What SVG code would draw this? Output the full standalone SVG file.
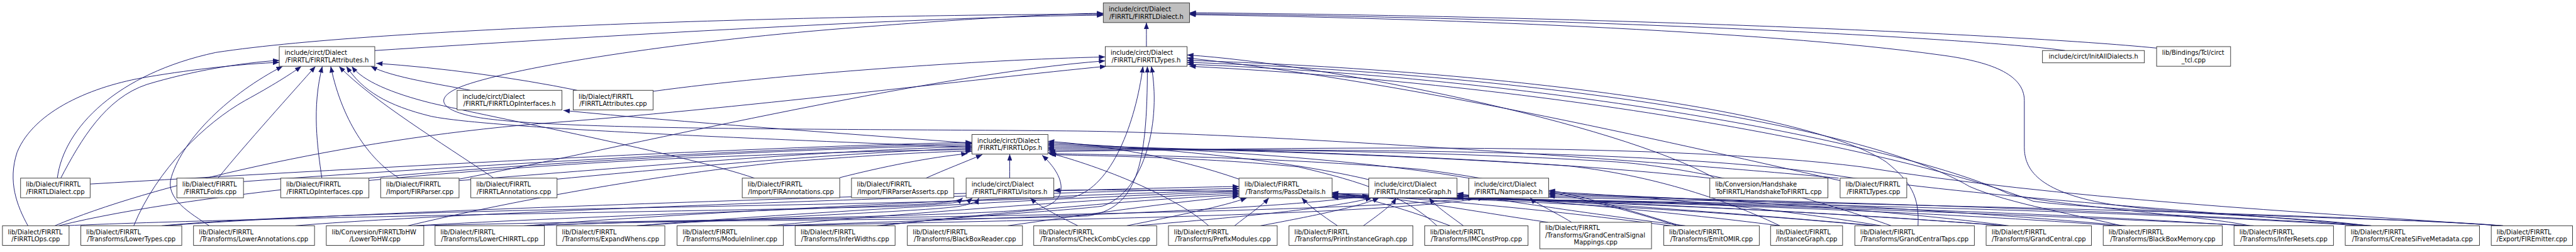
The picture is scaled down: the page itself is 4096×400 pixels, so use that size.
<svg xmlns="http://www.w3.org/2000/svg" width="4096" height="400" viewBox="0 0 4096 400">
<defs>
<marker id="ah" markerWidth="13" markerHeight="10" refX="13" refY="5" orient="auto" markerUnits="userSpaceOnUse" viewBox="0 0 13 10"><path d="M0,0 L13,5 L0,10 z" fill="#191970"/></marker>
</defs>
<style>
.e{fill:none;stroke:#191970;stroke-width:1.25;marker-end:url(#ah)}
.n rect{fill:#ffffff;stroke:#333333;stroke-width:1.2}
.n text{font-family:"DejaVu Sans",Verdana,sans-serif;font-size:12.8px;fill:#000000}
.n .m{text-anchor:middle}
#n_FIRRTLDialect_h rect{fill:#bfbfbf}
</style>
<rect width="4096" height="400" fill="#ffffff"/>
<g transform="scale(0.779)">
<g id="edges">
<path class="e" d="M2340,95 C2340,80 2340,60 2340,46"/>
<path class="e" d="M765,103 C1200,75 1900,33 2252,31"/>
<path class="e" d="M117,363 C130,260 240,150 440,107 C800,52 1800,29 2252,29"/>
<path class="e" d="M3753,363 C3400,330 2600,272 2200,267 C1700,262 1150,266 980,240 C890,225 880,195 960,170 C1080,132 1400,82 1760,55 C1980,38 2150,28 2252,27"/>
<path class="e" d="M4215,103 C4050,80 3300,38 2428,28"/>
<path class="e" d="M4402,98 C4100,68 3200,32 2428,26"/>
<path class="e" d="M5109,460 C4900,442 4480,445 4300,415 C4160,390 4132,345 4132,300 L4132,205 C4132,150 4060,125 3960,112 C3600,62 2900,36 2428,30"/>
<path class="e" d="M124,363 C165,285 215,200 300,172 C390,145 490,128 570,123"/>
<path class="e" d="M57,460 C35,420 15,370 35,310 C70,225 190,175 300,157 C400,140 500,130 570,127"/>
<path class="e" d="M427,460 C390,435 335,405 350,360 C375,280 470,190 577,135"/>
<path class="e" d="M273,460 C320,345 420,250 500,205 C555,175 595,150 615,135"/>
<path class="e" d="M445,363 C500,295 600,185 644,135"/>
<path class="e" d="M657,363 C648,300 636,220 658,135"/>
<path class="e" d="M815,363 C760,330 700,255 675,135"/>
<path class="e" d="M1008,363 C900,290 760,205 692,135"/>
<path class="e" d="M1984,300 C1600,285 1000,262 880,237 C790,215 740,185 707,135"/>
<path class="e" d="M1540,363 C1400,315 1000,238 880,210 C800,190 740,165 718,135"/>
<path class="e" d="M960,184 C900,172 800,158 757,135"/>
<path class="e" d="M1178,184 C1050,158 900,138 768,129"/>
<path class="e" d="M1333,186 C1600,150 2000,122 2256,116"/>
<path class="e" d="M937,365 C1250,305 1900,150 2256,124"/>
<path class="e" d="M112,460 C300,380 700,285 1100,252 C1500,222 2000,160 2258,135"/>
<path class="e" d="M330,460 C700,425 1800,420 2190,402 C2270,380 2318,250 2333,135"/>
<path class="e" d="M1090,460 C1400,445 2000,450 2220,440 C2320,425 2342,340 2342,135"/>
<path class="e" d="M1800,460 C1950,440 2150,432 2250,420 C2340,390 2370,240 2350,135"/>
<path class="e" d="M3500,363 C3300,250 2700,130 2423,112"/>
<path class="e" d="M3756,368 C3450,300 2900,170 2423,118"/>
<path class="e" d="M3915,460 C3918,400 3900,370 3850,330 C3700,230 3100,145 2423,123"/>
<path class="e" d="M4330,460 C4250,440 4100,415 4020,380 C3800,250 3100,150 2423,127"/>
<path class="e" d="M4592,460 C4500,440 4200,420 4100,395 C3900,300 3200,160 2424,131"/>
<path class="e" d="M4832,460 C4700,440 4300,430 4150,410 C3950,330 3300,180 2428,135"/>
<path class="e" d="M1984,292 C1700,270 1400,250 1150,225"/>
<path class="e" d="M184,375 C700,345 1500,300 1984,290"/>
<path class="e" d="M497,370 C900,340 1600,300 1984,293"/>
<path class="e" d="M753,363 C1100,330 1650,302 1984,296"/>
<path class="e" d="M937,368 C1300,340 1700,305 1984,299"/>
<path class="e" d="M1137,365 C1450,335 1750,310 1984,302"/>
<path class="e" d="M120,460 C400,390 1000,340 1400,322 C1700,310 1850,306 1984,305"/>
<path class="e" d="M833,460 C1000,420 1300,360 1600,330 C1800,315 1900,309 1984,308"/>
<path class="e" d="M1714,362 C1800,340 1900,320 1975,313"/>
<path class="e" d="M1890,363 C1930,345 1970,330 2005,315"/>
<path class="e" d="M2061,363 C2061,345 2061,330 2061,314"/>
<path class="e" d="M1070,460 C1500,445 2000,440 2120,425 C2185,410 2175,360 2127,316"/>
<path class="e" d="M2529,365 C2400,320 2250,295 2139,288"/>
<path class="e" d="M2794,366 C2600,320 2300,297 2139,291"/>
<path class="e" d="M2998,363 C2750,320 2350,299 2139,294"/>
<path class="e" d="M3490,363 C3100,320 2500,303 2139,297"/>
<path class="e" d="M3633,460 C3550,420 3400,360 3200,338 C2800,312 2400,302 2139,300"/>
<path class="e" d="M3860,460 C3750,420 3500,345 3300,330 C2900,305 2450,304 2139,303"/>
<path class="e" d="M4840,460 C4500,430 4000,400 3700,350 C3300,300 2600,305 2139,306"/>
<path class="e" d="M5105,460 C4700,432 4200,405 3800,340 C3400,290 2700,300 2141,309"/>
<path class="e" d="M2467,460 C2400,400 2250,340 2139,311"/>
<path class="e" d="M2933,460 C2870,400 2780,370 2650,340 C2450,320 2250,318 2143,315"/>
<path class="e" d="M3423,460 C3300,420 3100,370 2900,345 C2600,320 2300,316 2141,313"/>
<path class="e" d="M130,460 C600,440 1500,430 1850,420 C1930,416 1975,412 1985,403"/>
<path class="e" d="M845,460 C1200,440 1700,425 1900,415 C1940,412 1960,408 1965,403"/>
<path class="e" d="M1300,460 C1600,440 1900,430 1960,420 C1985,415 1995,410 1998,403"/>
<path class="e" d="M2200,460 C2160,440 2120,420 2103,403"/>
<path class="e" d="M5109,460 C4600,425 3000,400 2500,390 C2300,386 2200,387 2151,388"/>
<path class="e" d="M337,460 C700,430 2200,385 2529,380"/>
<path class="e" d="M603,460 C950,430 2200,390 2529,384"/>
<path class="e" d="M1075,460 C1400,432 2250,393 2529,388"/>
<path class="e" d="M1300,460 C1600,435 2280,396 2529,391"/>
<path class="e" d="M1567,460 C1850,435 2300,400 2529,394"/>
<path class="e" d="M1790,460 C2000,438 2330,405 2529,397"/>
<path class="e" d="M2057,460 C2200,440 2400,410 2529,400"/>
<path class="e" d="M2300,460 C2400,440 2500,420 2545,403"/>
<path class="e" d="M2520,460 C2545,440 2575,420 2590,403"/>
<path class="e" d="M2730,460 C2700,440 2672,420 2657,403"/>
<path class="e" d="M2960,460 C2880,430 2790,402 2719,392"/>
<path class="e" d="M3160,453 C3000,430 2850,400 2719,394"/>
<path class="e" d="M3410,460 C3100,420 2850,400 2719,396"/>
<path class="e" d="M3823,460 C3400,420 2900,400 2719,398"/>
<path class="e" d="M4087,460 C3600,420 2950,401 2719,400"/>
<path class="e" d="M4320,460 C3800,420 3000,402 2719,401"/>
<path class="e" d="M4580,460 C4000,420 3050,403 2719,402"/>
<path class="e" d="M4820,460 C4200,420 3100,404 2719,403"/>
<path class="e" d="M1585,460 C2000,445 2600,430 2794,398"/>
<path class="e" d="M2320,460 C2500,445 2720,425 2800,403"/>
<path class="e" d="M2573,460 C2680,440 2780,420 2815,403"/>
<path class="e" d="M2783,460 C2810,440 2840,420 2850,403"/>
<path class="e" d="M2987,460 C2960,440 2930,420 2917,403"/>
<path class="e" d="M3440,460 C3200,430 3050,405 2974,394"/>
<path class="e" d="M3633,460 C3400,430 3100,405 2974,397"/>
<path class="e" d="M3830,460 C3500,430 3150,407 2974,399"/>
<path class="e" d="M4095,460 C3700,430 3200,408 2974,401"/>
<path class="e" d="M4600,460 C4000,430 3300,409 2974,403"/>
<path class="e" d="M850,460 C1400,445 2700,440 3010,403"/>
<path class="e" d="M1600,460 C2100,448 2800,440 3030,403"/>
<path class="e" d="M3208,453 C3170,430 3135,415 3123,403"/>
<path class="e" d="M3430,460 C3300,420 3200,392 3161,388"/>
<path class="e" d="M3840,460 C3600,420 3300,396 3161,391"/>
<path class="e" d="M4100,460 C3800,420 3350,398 3161,394"/>
<path class="e" d="M4340,460 C3900,420 3400,400 3161,397"/>
<path class="e" d="M4840,460 C4300,425 3500,404 3161,400"/>
</g>
<g id="n_FIRRTLDialect_h" class="n"><rect x="2252" y="6" width="176" height="40"/><text x="2263" y="23">include/circt/Dialect</text><text class="m" x="2340" y="38">/FIRRTL/FIRRTLDialect.h</text></g>
<g id="n_FIRRTLAttributes_h" class="n"><rect x="570" y="95" width="195" height="40"/><text x="581" y="112">include/circt/Dialect</text><text class="m" x="667.5" y="127">/FIRRTL/FIRRTLAttributes.h</text></g>
<g id="n_FIRRTLTypes_h" class="n"><rect x="2256" y="95" width="167" height="40"/><text x="2267" y="112">include/circt/Dialect</text><text class="m" x="2339.5" y="127">/FIRRTL/FIRRTLTypes.h</text></g>
<g id="n_InitAllDialects_h" class="n"><rect x="4169" y="103" width="208" height="25"/><text class="m" x="4273" y="120">include/circt/InitAllDialects.h</text></g>
<g id="n_circt_tcl_cpp" class="n"><rect x="4402" y="95" width="151" height="40"/><text x="4413" y="112">lib/Bindings/Tcl/circt</text><text class="m" x="4477.5" y="127">_tcl.cpp</text></g>
<g id="n_FIRRTLOpInterfaces_h" class="n"><rect x="933" y="184" width="214" height="40"/><text x="944" y="201">include/circt/Dialect</text><text class="m" x="1040" y="216">/FIRRTL/FIRRTLOpInterfaces.h</text></g>
<g id="n_FIRRTLAttributes_cpp" class="n"><rect x="1170" y="184" width="163" height="40"/><text x="1181" y="201">lib/Dialect/FIRRTL</text><text class="m" x="1251.5" y="216">/FIRRTLAttributes.cpp</text></g>
<g id="n_FIRRTLOps_h" class="n"><rect x="1984" y="274" width="155" height="40"/><text x="1995" y="291">include/circt/Dialect</text><text class="m" x="2061.5" y="306">/FIRRTL/FIRRTLOps.h</text></g>
<g id="n_FIRRTLDialect_cpp" class="n"><rect x="42" y="363" width="142" height="40"/><text x="53" y="380">lib/Dialect/FIRRTL</text><text class="m" x="113" y="395">/FIRRTLDialect.cpp</text></g>
<g id="n_FIRRTLFolds_cpp" class="n"><rect x="361" y="363" width="136" height="40"/><text x="372" y="380">lib/Dialect/FIRRTL</text><text class="m" x="429" y="395">/FIRRTLFolds.cpp</text></g>
<g id="n_FIRRTLOpInterfaces_cpp" class="n"><rect x="573" y="363" width="180" height="40"/><text x="584" y="380">lib/Dialect/FIRRTL</text><text class="m" x="663" y="395">/FIRRTLOpInterfaces.cpp</text></g>
<g id="n_FIRParser_cpp" class="n"><rect x="777" y="363" width="160" height="40"/><text x="788" y="380">lib/Dialect/FIRRTL</text><text class="m" x="857" y="395">/Import/FIRParser.cpp</text></g>
<g id="n_FIRRTLAnnotations_cpp" class="n"><rect x="961" y="363" width="176" height="40"/><text x="972" y="380">lib/Dialect/FIRRTL</text><text class="m" x="1049" y="395">/FIRRTLAnnotations.cpp</text></g>
<g id="n_FIRAnnotations_cpp" class="n"><rect x="1515" y="363" width="199" height="40"/><text x="1526" y="380">lib/Dialect/FIRRTL</text><text class="m" x="1614.5" y="395">/Import/FIRAnnotations.cpp</text></g>
<g id="n_FIRParserAsserts_cpp" class="n"><rect x="1738" y="363" width="209" height="40"/><text x="1749" y="380">lib/Dialect/FIRRTL</text><text class="m" x="1842.5" y="395">/Import/FIRParserAsserts.cpp</text></g>
<g id="n_FIRRTLVisitors_h" class="n"><rect x="1972" y="363" width="179" height="40"/><text x="1983" y="380">include/circt/Dialect</text><text class="m" x="2061.5" y="395">/FIRRTL/FIRRTLVisitors.h</text></g>
<g id="n_PassDetails_h" class="n"><rect x="2529" y="363" width="190" height="40"/><text x="2540" y="380">lib/Dialect/FIRRTL</text><text class="m" x="2624" y="395">/Transforms/PassDetails.h</text></g>
<g id="n_InstanceGraph_h" class="n"><rect x="2794" y="363" width="180" height="40"/><text x="2805" y="380">include/circt/Dialect</text><text class="m" x="2884" y="395">/FIRRTL/InstanceGraph.h</text></g>
<g id="n_Namespace_h" class="n"><rect x="2998" y="363" width="163" height="40"/><text x="3009" y="380">include/circt/Dialect</text><text class="m" x="3079.5" y="395">/FIRRTL/Namespace.h</text></g>
<g id="n_HandshakeToFIRRTL_cpp" class="n"><rect x="3490" y="363" width="241" height="40"/><text x="3501" y="380">lib/Conversion/Handshake</text><text class="m" x="3610.5" y="395">ToFIRRTL/HandshakeToFIRRTL.cpp</text></g>
<g id="n_FIRRTLTypes_cpp" class="n"><rect x="3756" y="363" width="136" height="40"/><text x="3767" y="380">lib/Dialect/FIRRTL</text><text class="m" x="3824" y="395">/FIRRTLTypes.cpp</text></g>
<g id="n_FIRRTLOps_cpp" class="n"><rect x="5" y="460" width="136" height="40"/><text x="16" y="477">lib/Dialect/FIRRTL</text><text class="m" x="73" y="492">/FIRRTLOps.cpp</text></g>
<g id="n_LowerTypes_cpp" class="n"><rect x="165" y="460" width="206" height="40"/><text x="176" y="477">lib/Dialect/FIRRTL</text><text class="m" x="268" y="492">/Transforms/LowerTypes.cpp</text></g>
<g id="n_LowerAnnotations_cpp" class="n"><rect x="395" y="460" width="247" height="40"/><text x="406" y="477">lib/Dialect/FIRRTL</text><text class="m" x="518.5" y="492">/Transforms/LowerAnnotations.cpp</text></g>
<g id="n_LowerToHW_cpp" class="n"><rect x="666" y="460" width="199" height="40"/><text x="677" y="477">lib/Conversion/FIRRTLToHW</text><text class="m" x="765.5" y="492">/LowerToHW.cpp</text></g>
<g id="n_LowerCHIRRTL_cpp" class="n"><rect x="888" y="460" width="223" height="40"/><text x="899" y="477">lib/Dialect/FIRRTL</text><text class="m" x="999.5" y="492">/Transforms/LowerCHIRRTL.cpp</text></g>
<g id="n_ExpandWhens_cpp" class="n"><rect x="1136" y="460" width="221" height="40"/><text x="1147" y="477">lib/Dialect/FIRRTL</text><text class="m" x="1246.5" y="492">/Transforms/ExpandWhens.cpp</text></g>
<g id="n_ModuleInliner_cpp" class="n"><rect x="1382" y="460" width="217" height="40"/><text x="1393" y="477">lib/Dialect/FIRRTL</text><text class="m" x="1490.5" y="492">/Transforms/ModuleInliner.cpp</text></g>
<g id="n_InferWidths_cpp" class="n"><rect x="1623" y="460" width="204" height="40"/><text x="1634" y="477">lib/Dialect/FIRRTL</text><text class="m" x="1725" y="492">/Transforms/InferWidths.cpp</text></g>
<g id="n_BlackBoxReader_cpp" class="n"><rect x="1852" y="460" width="235" height="40"/><text x="1863" y="477">lib/Dialect/FIRRTL</text><text class="m" x="1969.5" y="492">/Transforms/BlackBoxReader.cpp</text></g>
<g id="n_CheckCombCycles_cpp" class="n"><rect x="2110" y="460" width="251" height="40"/><text x="2121" y="477">lib/Dialect/FIRRTL</text><text class="m" x="2235.5" y="492">/Transforms/CheckCombCycles.cpp</text></g>
<g id="n_PrefixModules_cpp" class="n"><rect x="2385" y="460" width="222" height="40"/><text x="2396" y="477">lib/Dialect/FIRRTL</text><text class="m" x="2496" y="492">/Transforms/PrefixModules.cpp</text></g>
<g id="n_PrintInstanceGraph_cpp" class="n"><rect x="2631" y="460" width="253" height="40"/><text x="2642" y="477">lib/Dialect/FIRRTL</text><text class="m" x="2757.5" y="492">/Transforms/PrintInstanceGraph.cpp</text></g>
<g id="n_IMConstProp_cpp" class="n"><rect x="2908" y="460" width="211" height="40"/><text x="2919" y="477">lib/Dialect/FIRRTL</text><text class="m" x="3013.5" y="492">/Transforms/IMConstProp.cpp</text></g>
<g id="n_GrandCentralSignalMappings_cpp" class="n"><rect x="3143" y="453" width="228" height="54"/><text x="3154" y="469">lib/Dialect/FIRRTL</text><text x="3154" y="483.5">/Transforms/GrandCentralSignal</text><text class="m" x="3257" y="498">Mappings.cpp</text></g>
<g id="n_EmitOMIR_cpp" class="n"><rect x="3396" y="460" width="195" height="40"/><text x="3407" y="477">lib/Dialect/FIRRTL</text><text class="m" x="3493.5" y="492">/Transforms/EmitOMIR.cpp</text></g>
<g id="n_InstanceGraph_cpp" class="n"><rect x="3614" y="460" width="147" height="40"/><text x="3625" y="477">lib/Dialect/FIRRTL</text><text class="m" x="3687.5" y="492">/InstanceGraph.cpp</text></g>
<g id="n_GrandCentralTaps_cpp" class="n"><rect x="3786" y="460" width="244" height="40"/><text x="3797" y="477">lib/Dialect/FIRRTL</text><text class="m" x="3908" y="492">/Transforms/GrandCentralTaps.cpp</text></g>
<g id="n_GrandCentral_cpp" class="n"><rect x="4054" y="460" width="215" height="40"/><text x="4065" y="477">lib/Dialect/FIRRTL</text><text class="m" x="4161.5" y="492">/Transforms/GrandCentral.cpp</text></g>
<g id="n_BlackBoxMemory_cpp" class="n"><rect x="4293" y="460" width="243" height="40"/><text x="4304" y="477">lib/Dialect/FIRRTL</text><text class="m" x="4414.5" y="492">/Transforms/BlackBoxMemory.cpp</text></g>
<g id="n_InferResets_cpp" class="n"><rect x="4560" y="460" width="203" height="40"/><text x="4571" y="477">lib/Dialect/FIRRTL</text><text class="m" x="4661.5" y="492">/Transforms/InferResets.cpp</text></g>
<g id="n_CreateSiFiveMetadata_cpp" class="n"><rect x="4787" y="460" width="274" height="40"/><text x="4798" y="477">lib/Dialect/FIRRTL</text><text class="m" x="4924" y="492">/Transforms/CreateSiFiveMetadata.cpp</text></g>
<g id="n_FIREmitter_cpp" class="n"><rect x="5085" y="460" width="166" height="40"/><text x="5096" y="477">lib/Dialect/FIRRTL</text><text class="m" x="5168" y="492">/Export/FIREmitter.cpp</text></g>
</g>
</svg>
